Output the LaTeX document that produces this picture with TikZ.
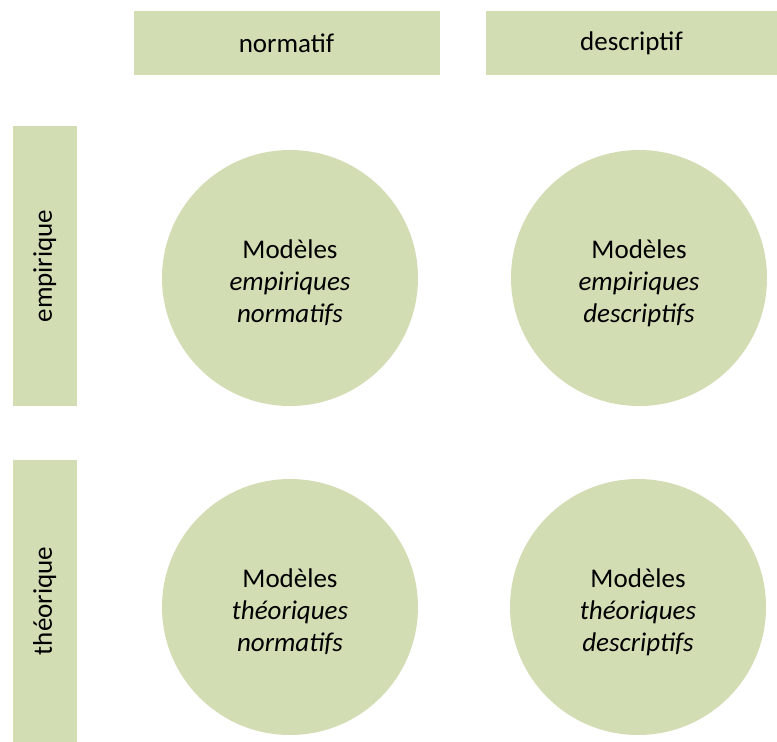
\documentclass[tikz,border=0pt]{standalone}
\usepackage{fontspec}
\setmainfont{Carlito}
\definecolor{sage}{RGB}{211,221,180}

\newcommand{\modeltext}[2]{\rule{0pt}{29pt}Modèles\\ \textit{#1}\\ \textit{#2}}

\tikzset{
  cell/.style={fill=sage, draw=none, inner sep=0pt, font=\fontsize{27}{32}\selectfont},
  header/.style={cell, minimum height=64pt},
  sidebar/.style={cell, minimum width=64pt, rotate=90},
  model/.style={cell, circle, minimum size=256pt, align=center},
}

\begin{document}
\begin{tikzpicture}[x=1pt,y=-1pt]
\useasboundingbox (0,0) rectangle (777,742);

% column headers
\node[header, minimum width=306pt] (normatif) at (286.5,43) {normatif};
\node[header, minimum width=291pt] (descriptif) at (631.5,43) {descriptif};

% row headers
\node[sidebar, minimum width=280pt, minimum height=64pt] (empirique) at (44.7,266) {empirique};
\node[sidebar, minimum width=282pt, minimum height=64pt] (theorique) at (44.7,601) {théorique};

% the four models
\node[model] (empnorm) at (290,278) {\modeltext{empiriques}{normatifs}};
\node[model] (empdesc) at (639,278) {\modeltext{empiriques}{descriptifs}};
\node[model] (thenorm) at (290,607) {\modeltext{théoriques}{normatifs}};
\node[model] (thedesc) at (638,607) {\modeltext{théoriques}{descriptifs}};
\end{tikzpicture}
\end{document}
